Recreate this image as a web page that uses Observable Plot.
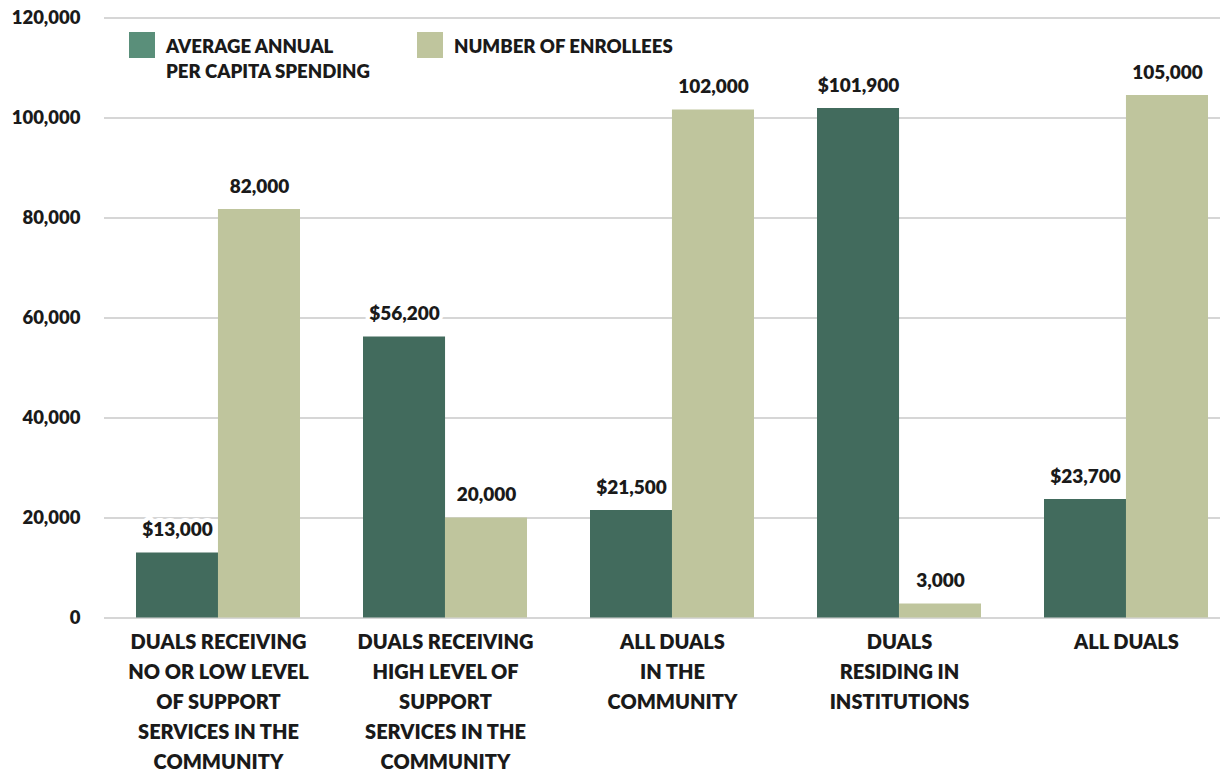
<!DOCTYPE html>
<html>
<head>
<meta charset="utf-8">
<script src="https://cdn.jsdelivr.net/npm/d3@7"></script>
<script src="https://cdn.jsdelivr.net/npm/@observablehq/plot@0.6"></script>
<style>
  html, body { margin: 0; padding: 0; background: #fff; }
  #wrap { position: relative; width: 1220px; height: 772px; font-family: Lato, "Open Sans", sans-serif; }
  .legend { position: absolute; top: 32px; display: flex; align-items: flex-start; font-weight: 800; font-size: 18.6px; color: #1a1a1a; line-height: 25px; }
  .legend .sw { width: 26px; height: 26px; margin-right: 11px; flex: none; }
</style>
</head>
<body>
<div id="wrap"></div>
<script>
const categories = [
  "DUALS RECEIVING\nNO OR LOW LEVEL\nOF SUPPORT\nSERVICES IN THE\nCOMMUNITY",
  "DUALS RECEIVING\nHIGH LEVEL OF\nSUPPORT\nSERVICES IN THE\nCOMMUNITY",
  "ALL DUALS\nIN THE\nCOMMUNITY",
  "DUALS\nRESIDING IN\nINSTITUTIONS",
  "ALL DUALS"
];
const seriesNames = ["AVERAGE ANNUAL\nPER CAPITA SPENDING", "NUMBER OF ENROLLEES"];
const spending = [13000, 56200, 21500, 101900, 23700];
const spendingLabels = ["$13,000", "$56,200", "$21,500", "$101,900", "$23,700"];
const enrollees = [81700, 20000, 101600, 2800, 104500];
const enrolleeLabels = ["82,000", "20,000", "102,000", "3,000", "105,000"];
const yTicks = [0, 20000, 40000, 60000, 80000, 100000, 120000];
const colors = ["#426b5d", "#bfc59d"];
const legendColors = ["#5a8f7a", "#bfc59d"];

const rows = [];
categories.forEach((c, i) => {
  rows.push({cat: c, series: seriesNames[0], value: spending[i], label: spendingLabels[i], side: 0});
  rows.push({cat: c, series: seriesNames[1], value: enrollees[i], label: enrolleeLabels[i], side: 1});
});

const W = 1220, H = 772;
const mL = 104, mR = 0, insL = 32, insR = 12, padIn = 0.278;
const step = (W - mL - mR - insL - insR) / (categories.length - padIn);
const bw = step * (1 - padIn);
const half = bw / 2;

const font = "Lato, 'Open Sans', sans-serif";
const dark = rows.filter(d => d.side === 0);
const light = rows.filter(d => d.side === 1);
const labelStyle = {fontSize: 19, fontWeight: 800, fill: "#1a1a1a", stroke: "white", strokeWidth: 8, paintOrder: "stroke", dy: -17, lineAnchor: "bottom"};

const chart = Plot.plot({
  width: W,
  height: H,
  marginLeft: mL,
  marginRight: mR,
  marginTop: 17.5,
  marginBottom: 154.5,
  style: {fontFamily: font, background: "#fff"},
  x: {domain: categories, paddingInner: padIn, paddingOuter: 0, insetLeft: insL, insetRight: insR, align: 0},
  y: {domain: [0, 120000]},
  marks: [
    Plot.ruleY(yTicks, {stroke: "#c8c8c8", strokeWidth: 1.5}),
    Plot.barY(dark, {x: "cat", y: "value", fill: colors[0], insetRight: half}),
    Plot.barY(light, {x: "cat", y: "value", fill: colors[1], insetLeft: half}),
    Plot.text(dark, {x: "cat", y: "value", text: "label", dx: -half / 2, ...labelStyle}),
    Plot.text(light, {x: "cat", y: "value", text: "label", dx: half / 2, ...labelStyle}),
    Plot.axisY({ticks: yTicks, tickSize: 0, tickPadding: 24, tickFormat: d3.format(","), fontSize: 18.5, fontWeight: 800, fill: "#1a1a1a", label: null}),
    Plot.axisX({tickSize: 0, tickPadding: 10, fontSize: 20, fontWeight: 800, fill: "#1a1a1a", lineHeight: 1.5, lineAnchor: "top", label: null})
  ]
});

const wrap = document.getElementById("wrap");
wrap.appendChild(chart);

const legendLeft = [129, 417];
seriesNames.forEach((name, i) => {
  const item = document.createElement("div");
  item.className = "legend";
  item.style.left = legendLeft[i] + "px";
  const sw = document.createElement("div");
  sw.className = "sw";
  sw.style.background = legendColors[i];
  const tx = document.createElement("div");
  tx.innerHTML = name.split("\n").join("<br>");
  tx.style.marginTop = "2px";
  item.appendChild(sw);
  item.appendChild(tx);
  wrap.appendChild(item);
});
</script>
</body>
</html>
